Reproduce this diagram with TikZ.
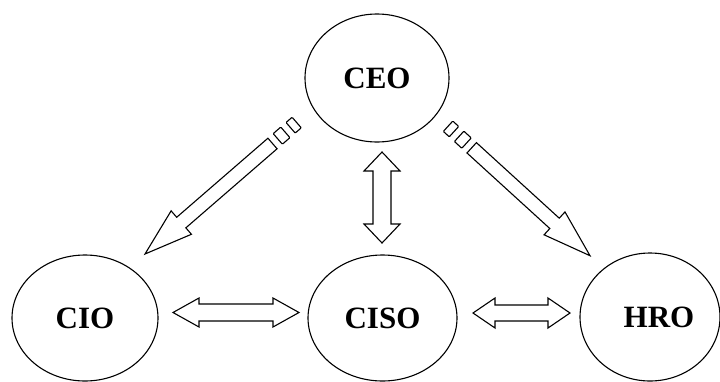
\documentclass[tikz,border=0pt]{standalone}
\usepackage{fontspec}
\setmainfont{Liberation Serif}
\usetikzlibrary{shapes.geometric,calc}

\tikzset{
  role/.style={ellipse, draw, line width=1.1pt, inner sep=0pt,
    font=\fontsize{31}{31}\selectfont\bfseries},
  blockline/.style={draw, line width=1.1pt, line join=miter, fill=white},
}

% Hollow two-headed block arrow between #1 and #2
% #3 head length, #4 head half width, #5 shaft half width
\newcommand\twowayblock[5]{%
  \draw[blockline] (#1)
    -- ($(#1)!#3!(#2)!#4!90:(#2)$)
    -- ($(#1)!#3!(#2)!#5!90:(#2)$)
    -- ($(#2)!#3!(#1)!#5!-90:(#1)$)
    -- ($(#2)!#3!(#1)!#4!-90:(#1)$)
    -- (#2)
    -- ($(#2)!#3!(#1)!#4!90:(#1)$)
    -- ($(#2)!#3!(#1)!#5!90:(#1)$)
    -- ($(#1)!#3!(#2)!#5!-90:(#2)$)
    -- ($(#1)!#3!(#2)!#4!-90:(#2)$)
    -- cycle;}

% One stripe behind the tail #1 of an arrow pointing at #2,
% from distance #3 to #4 behind the tail, half width #5
\newcommand\tailstripe[5]{%
  \draw[blockline, rounded corners=0.8pt]
       ($(#1)!-#3!(#2)!#5!90:(#2)$)
    -- ($(#1)!-#4!(#2)!#5!90:(#2)$)
    -- ($(#1)!-#4!(#2)!#5!-90:(#2)$)
    -- ($(#1)!-#3!(#2)!#5!-90:(#2)$)
    -- cycle;}

% Hollow striped block arrow from tail #1 to tip #2
% #3 head length, #4 head half width, #5 shaft half width
\newcommand\stripedblock[5]{%
  \draw[blockline]
       ($(#1)!#5!90:(#2)$)
    -- ($(#2)!#3!(#1)!#5!-90:(#1)$)
    -- ($(#2)!#3!(#1)!#4!-90:(#1)$)
    -- (#2)
    -- ($(#2)!#3!(#1)!#4!90:(#1)$)
    -- ($(#2)!#3!(#1)!#5!90:(#1)$)
    -- ($(#1)!#5!-90:(#2)$)
    -- cycle;
  \tailstripe{#1}{#2}{7pt}{17pt}{#5}
  \tailstripe{#1}{#2}{24pt}{32pt}{#5}}

\begin{document}
\begin{tikzpicture}[x=1pt, y=-1pt]
  \useasboundingbox (0,0) rectangle (720,381);

  % roles
  \node[role, minimum width=144pt, minimum height=128pt] (ceo)  at (377,78)    {CEO};
  \node[role, minimum width=146pt, minimum height=126pt] (cio)  at (85,318)    {CIO};
  \node[role, minimum width=149pt, minimum height=126pt] (ciso) at (382.5,318) {CISO};
  \node[role, minimum width=140pt, minimum height=128pt] (hro)  at (650,317)   {\hspace*{18pt}HRO};

  % arrow end points
  \coordinate (cioL)  at (173,312.5);
  \coordinate (cisoL) at (299,312.5);
  \coordinate (cisoR) at (473,313);
  \coordinate (hroL)  at (570,313);
  \coordinate (ceoB)  at (382,152);
  \coordinate (cisoT) at (382,243);
  \coordinate (tailL) at (272.5,143.5);
  \coordinate (tipL)  at (145,254);
  \coordinate (tailR) at (471.7,147.8);
  \coordinate (tipR)  at (590,255.7);

  % two-way links
  \twowayblock{cioL}{cisoL}{26pt}{14.5pt}{8.5pt}
  \twowayblock{cisoR}{hroL}{22pt}{15pt}{8pt}
  \twowayblock{ceoB}{cisoT}{19pt}{18pt}{9pt}

  % striped arrows out of the CEO
  \stripedblock{tailL}{tipL}{48pt}{15.5pt}{7pt}
  \stripedblock{tailR}{tipR}{48pt}{15.5pt}{7pt}
\end{tikzpicture}
\end{document}
